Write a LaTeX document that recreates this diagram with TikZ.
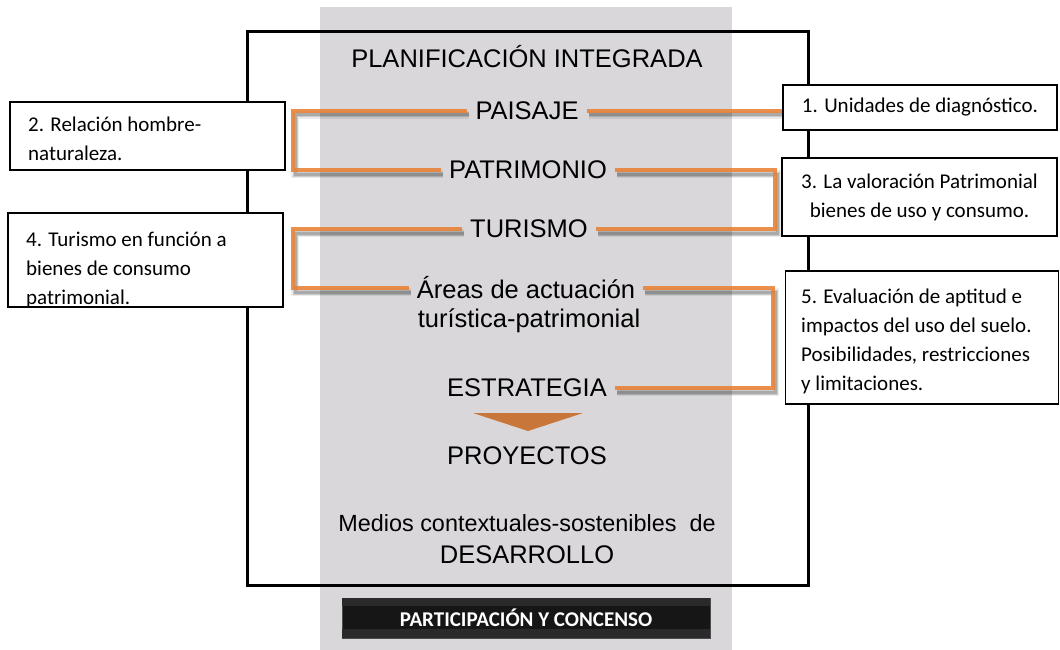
\documentclass[tikz,border=0pt]{standalone}
\usepackage{fontspec}
\setmainfont{Liberation Sans}
\newfontfamily\boxfont{Carlito}
\usetikzlibrary{calc}
\definecolor{bggray}{RGB}{217,215,218}
\definecolor{connc}{RGB}{232,128,52}
\definecolor{arrc}{RGB}{200,118,58}
\definecolor{bardark}{RGB}{22,22,22}
\definecolor{barband}{RGB}{42,42,42}
\begin{document}
\begin{tikzpicture}[x=1pt,y=-1pt,
  main/.style={font=\fontsize{25.5}{30}\selectfont, inner xsep=8pt, inner ysep=2pt},
  box/.style={draw=black, line width=1.3pt, fill=white, inner sep=0pt},
  btext/.style={font=\boxfont\fontsize{21}{29}\selectfont, inner sep=0pt},
  conn/.style={draw=connc, draw opacity=0.88, line width=4.5pt},
  shadowA/.style={draw=black, draw opacity=0.08, line width=8pt},
  shadowB/.style={draw=black, draw opacity=0.14, line width=5pt},
  shadowC/.style={draw=black, draw opacity=0.16, line width=3pt}
]
\useasboundingbox (0,0) rectangle (1060,650);
% gray column
\fill[bggray] (320,7) rectangle (732,650);
% frame
\draw[line width=3pt] (247,32) rectangle (808,585);

% central texts
\node[main] (title) at (527,57) {PLANIFICACIÓN INTEGRADA};
\node[main] (paisaje) at (527,111) {PAISAJE};
\node[main] (patrimonio) at (528,170) {PATRIMONIO};
\node[main] (turismo) at (529,229) {TURISMO};
\node[main] (areasA) at (526,288) {Áreas de actuación};
\node[main] (areasB) at (529,321) {turística-patrimonial};
\node[main] (estrategia) at (527,388) {ESTRATEGIA};
\node[main] (proyectos) at (527,456) {PROYECTOS};
\node[main, font=\fontsize{23.4}{28}\selectfont] (medios) at (527,523) {Medios contextuales-sostenibles\ \ de};
\node[main] (desarrollo) at (527,555) {DESARROLLO};

% arrow triangle
\fill[arrc] (473,413) -- (583,413) -- (528,431) -- cycle;

% side boxes
\node[box, minimum width=274, minimum height=45] (b1) at (920,107.5) {};
\node[box, minimum width=275, minimum height=68] (b2) at (147.5,136) {};
\node[box, minimum width=275, minimum height=78] (b3) at (919.5,197) {};
\node[box, minimum width=275, minimum height=94] (b4) at (145.5,260) {};
\node[box, minimum width=273, minimum height=133] (b5) at (922,337.5) {};

\node[btext] (t1) at (b1.center) {1. Unidades de diagnóstico.};
\node[btext, anchor=west, align=left] (t2) at (28,139) {2. Relación hombre-\\naturaleza.};
\node[btext, align=center] (t3) at (919.5,197.5) {3. La valoración Patrimonial\\bienes de uso y consumo.};
\node[btext, anchor=west, align=left] (t4) at (26,270) {4. Turismo en función a\\bienes de consumo\\patrimonial.};
\node[btext, anchor=west, align=left] (t5) at (801,341) {5. Evaluación de aptitud e\\impactos del uso del suelo.\\Posibilidades, restricciones\\y limitaciones.};

% connector guide coordinates
\coordinate (L) at (293,0);
\coordinate (R) at (775,0);
\coordinate (R2) at (773,0);

% soft shadows (down and right), explicit offset (2,4)
\foreach \s in {shadowA,shadowB,shadowC}{
\draw[\s] ($(paisaje.east)+(2,4)$) -- ($(paisaje.east -| b1.west)+(0,4)$);
\draw[\s] ($(paisaje.west)+(2,4)$) -- ($(paisaje.west -| L)+(2,4)$) |- ($(patrimonio.west)+(2,4)$);
\draw[\s] ($(patrimonio.east)+(2,4)$) -- ($(patrimonio.east -| R)+(2,4)$) |- ($(turismo.east)+(2,4)$);
\draw[\s] ($(turismo.west)+(2,4)$) -- ($(turismo.west -| L)+(2,4)$) |- ($(areasA.west)+(2,4)$);
\draw[\s] ($(areasA.east)+(2,4)$) -- ($(areasA.east -| R2)+(2,4)$) |- ($(estrategia.east)+(2,4)$);
}
% connectors
\draw[conn] (paisaje.east) -- (paisaje.east -| b1.west);
\draw[conn] (paisaje.west) -- (paisaje.west -| L) |- (patrimonio.west);
\draw[conn] (patrimonio.east) -- (patrimonio.east -| R) |- (turismo.east);
\draw[conn] (turismo.west) -- (turismo.west -| L) |- (areasA.west);
\draw[conn] (areasA.east) -- (areasA.east -| R2) |- (estrategia.east);

% bottom bar
\node[draw=black!70, line width=0.8pt, fill=bardark, minimum width=368, minimum height=40, inner sep=0pt] (bar) at (526,618) {};
\fill[barband] ([xshift=0.5pt,yshift=-0.5pt]bar.north west) rectangle ([xshift=-0.5pt,yshift=-8pt]bar.north east);
\fill[barband] ([xshift=0.5pt,yshift=9pt]bar.south west) rectangle ([xshift=-0.5pt,yshift=0.5pt]bar.south east);
\node[font=\boxfont\bfseries\fontsize{21}{24}\selectfont, text=white, inner sep=0pt] (bartext) at (bar.center) {PARTICIPACIÓN Y CONCENSO};
\end{tikzpicture}
\end{document}
